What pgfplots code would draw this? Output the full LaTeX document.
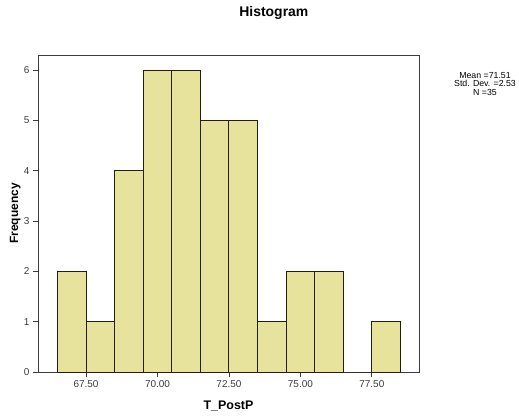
\documentclass[border=0pt]{standalone}
\usepackage{fontspec}
\setmainfont{Liberation Sans}
\usepackage{pgfplots}
\pgfplotsset{compat=1.18}
\definecolor{barfill}{RGB}{231,226,156}
\definecolor{baredge}{RGB}{35,32,18}
\definecolor{axisgray}{RGB}{60,60,60}
\definecolor{ticktext}{RGB}{60,60,60}
\begin{document}
\begin{tikzpicture}[x=1bp,y=1bp]
\useasboundingbox (0,0) rectangle (519,419);
\begin{axis}[
  at={(38bp,47bp)}, anchor=south west,
  scale only axis, width=381bp, height=317bp,
  xmin=65.82, xmax=79.15, ymin=0, ymax=6.3,
  xtick={67.5,70,72.5,75,77.5},
  xticklabels={67.50,70.00,72.50,75.00,77.50},
  ytick={0,1,2,3,4,5,6},
  xtick pos=lower, ytick pos=left,
  tick align=outside,
  major tick length=5bp,
  every tick/.style={axisgray, line width=0.8pt},
  axis line style={axisgray, line width=0.8pt},
  /pgf/number format/assume math mode=true,
  tick label style={font=\fontsize{10}{12}\selectfont, text=ticktext},
  title={\textbf{Histogram}},
  title style={at={(axis description cs:0.619,1.114)}, anchor=center, font=\fontsize{14}{16}\selectfont},
  xlabel={\textbf{T\_PostP}},
  xlabel style={at={(axis description cs:0.5,-0.106)}, anchor=center, font=\fontsize{12.5}{14}\selectfont},
  ylabel={\textbf{Frequency}},
  ylabel style={at={(axis description cs:-0.060,0.5)}, anchor=center, font=\fontsize{12}{14}\selectfont},
]
\addplot[ybar interval, fill=barfill, draw=baredge, line width=0.9pt]
  coordinates {(66.5,2) (67.5,1) (68.5,4) (69.5,6) (70.5,6) (71.5,5) (72.5,5) (73.5,1) (74.5,2) (75.5,2) (76.5,0) (77.5,1) (78.5,1)};
\end{axis}
\node[align=center, font=\fontsize{8.8}{9}\selectfont, text=black, inner sep=0pt] at (485,335)
  {Mean =71.51\\Std. Dev. =2.53\\N =35};
\end{tikzpicture}
\end{document}
